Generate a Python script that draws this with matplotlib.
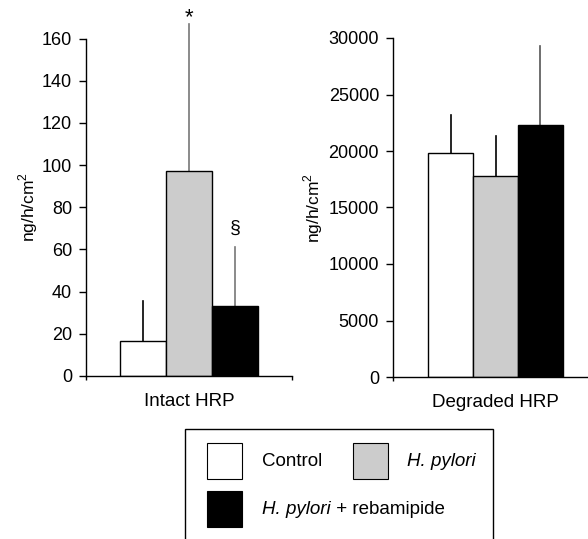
import matplotlib
matplotlib.use("Agg")
import matplotlib.pyplot as plt
from matplotlib.patches import Rectangle

plt.rcParams['font.family'] = ['Liberation Sans', 'DejaVu Sans']
plt.rcParams['mathtext.fontset'] = 'custom'
plt.rcParams['mathtext.rm'] = 'Liberation Sans'

groups = ["Control", "H. pylori", "H. pylori + rebamipide"]
colors = ["white", "#cccccc", "black"]

intact_mean = [16.5, 97, 33]
intact_err = [19, 70, 28]
intact_err_colors = ["black", "#777777", "#777777"]
intact_marks = ["", "*", "\u00a7"]

degraded_mean = [19800, 17800, 22300]
degraded_err = [3400, 3500, 7000]
degraded_err_colors = ["black", "black", "#555555"]

W, H = 588, 539
fig = plt.figure(figsize=(W / 100, H / 100), dpi=100)


def px(x0, y0, x1, y1):
    return [x0 / W, 1 - y1 / H, (x1 - x0) / W, (y1 - y0) / H]


def panel(ax, means, errs, err_colors, ymax, yticks, xlabel, xlim):
    x = list(range(len(means)))
    ax.bar(x, means, width=1.0, color=colors, edgecolor="black", linewidth=1.0, zorder=2)
    for xi, m, e, c in zip(x, means, errs, err_colors):
        ax.plot([xi, xi], [m, m + e], color=c, linewidth=1.2, zorder=1, clip_on=False)
    ax.set_xlim(*xlim)
    ax.set_ylim(0, ymax)
    ax.set_yticks(yticks)
    ax.set_xticks(list(xlim))
    ax.set_xticklabels([])
    ax.tick_params(axis="x", direction="out", length=3, width=1)
    ax.tick_params(axis="y", direction="out", length=5, width=1, labelsize=13, pad=5)
    for s in ("top", "right"):
        ax.spines[s].set_visible(False)
    ax.spines["left"].set_linewidth(1)
    ax.spines["bottom"].set_linewidth(1)
    ax.set_ylabel("ng/h/cm$^{2}$", fontsize=12.5)
    ax.set_xlabel(xlabel, fontsize=13.5, labelpad=6)


ax1 = fig.add_axes(px(86, 38.5, 292, 376))
panel(ax1, intact_mean, intact_err, intact_err_colors, 160,
      [0, 20, 40, 60, 80, 100, 120, 140, 160], "Intact HRP", (-1.24, 3.24))
ax1.yaxis.set_label_coords(-0.225, 0.5)
ax1.text(1, 170, intact_marks[1], ha="center", va="center", fontsize=16, clip_on=False)
ax1.text(2, 70, intact_marks[2], ha="center", va="center", fontsize=14, clip_on=False)

ax2 = fig.add_axes(px(393, 38, 598, 377))
panel(ax2, degraded_mean, degraded_err, degraded_err_colors, 30000,
      [0, 5000, 10000, 15000, 20000, 25000, 30000], "Degraded HRP", (-1.28, 3.28))
ax2.yaxis.set_label_coords(-0.33, 0.5)

# legend drawn by hand (irregular layout)
tr = fig.transFigure
fig.patches.append(Rectangle((185 / W, 1 - 560 / H), (493 - 185) / W, (560 - 429) / H,
                             transform=tr, fill=False, edgecolor="black", linewidth=1))
legend_pos = [(207, 443, 262), (353, 443, 407), (207, 491, 262)]
for (sx, sy, tx), c, lab in zip(legend_pos, colors, groups):
    fig.patches.append(Rectangle((sx / W, 1 - (sy + 36) / H), 35 / W, 36 / H,
                                 transform=tr, facecolor=c, edgecolor="black", linewidth=0.8))
    ty = 1 - (sy + 18) / H
    if lab.startswith("H. pylori"):
        rest = lab[len("H. pylori"):]
        t = fig.text(tx / W, ty, "H. pylori", fontsize=13.5, style="italic", va="center", ha="left")
        if rest:
            fig.canvas.draw()
            bb = t.get_window_extent()
            fig.text(bb.x1 / W, ty, rest, fontsize=13.5, va="center", ha="left")
    else:
        fig.text(tx / W, ty, lab, fontsize=13.5, va="center", ha="left")

fig.savefig("out.png", dpi=100)
